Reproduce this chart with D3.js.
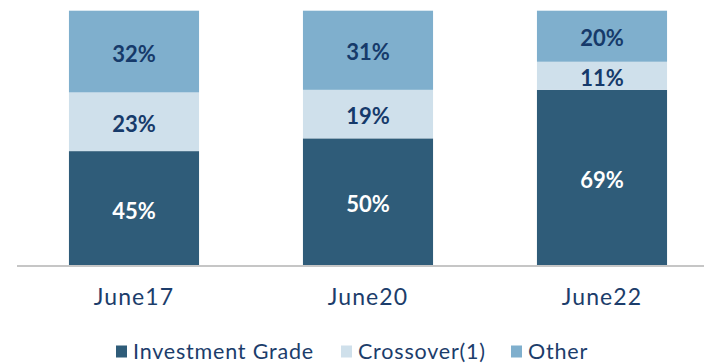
<!DOCTYPE html>
<html>
<head>
<meta charset="utf-8">
<script src="https://cdn.jsdelivr.net/npm/d3@7"></script>
<style>
  html, body { margin: 0; padding: 0; background: #fff; }
  svg { display: block; font-family: Lato, "Open Sans", sans-serif; }
</style>
</head>
<body>
<svg id="chart" width="704" height="363"></svg>
<script>
// Portfolio mix by period (percent of total)
const periods = ["June17", "June20", "June22"];
const investmentGrade = [45, 50, 69];
const crossover = [23, 19, 11];
const other = [32, 31, 20];

const seriesNames = ["Investment Grade", "Crossover(1)", "Other"];
const seriesColors = ["#2f5c79", "#cfe0eb", "#7fafcd"];
const labelColors = ["#ffffff", "#163a6a", "#163a6a"];

const rows = periods.map((p, i) => ({
  period: p,
  "Investment Grade": investmentGrade[i],
  "Crossover(1)": crossover[i],
  "Other": other[i]
}));

const svg = d3.select("#chart");
const baseY = 266, topY = 10.7;

const x = d3.scaleBand()
  .domain(periods)
  .range([17, 719])
  .paddingInner(0.444)
  .paddingOuter(0.222);

const y = d3.scaleLinear().domain([0, 100]).range([baseY, topY]);

const stack = d3.stack().keys(seriesNames);
const layers = stack(rows);

const g = svg.append("g");
layers.forEach((layer, li) => {
  const grp = g.append("g");
  grp.selectAll("rect")
    .data(layer)
    .join("rect")
    .attr("x", d => x(d.data.period))
    .attr("width", x.bandwidth())
    .attr("y", d => y(d[1]))
    .attr("height", d => y(d[0]) - y(d[1]))
    .attr("fill", seriesColors[li]);
  grp.selectAll("text")
    .data(layer)
    .join("text")
    .attr("x", d => x(d.data.period) + x.bandwidth() / 2)
    .attr("y", d => (y(d[0]) + y(d[1])) / 2 + 1.5)
    .attr("text-anchor", "middle")
    .attr("dominant-baseline", "central")
    .attr("font-size", 22)
    .attr("font-weight", 700)
    .attr("fill", labelColors[li])
    .text(d => (d[1] - d[0]) + "%");
});

// Baseline axis
const axis = d3.axisBottom(x).tickSize(0).tickPadding(0);
const axisG = svg.append("g")
  .attr("transform", `translate(0,${baseY})`)
  .call(axis);
axisG.select(".domain")
  .attr("d", "M17,0H704")
  .attr("stroke", "#c6c6c6")
  .attr("stroke-width", 2);
axisG.selectAll(".tick text")
  .attr("y", 39)
  .attr("dy", null)
  .attr("font-family", "Lato, sans-serif")
  .attr("font-size", 23)
  .attr("letter-spacing", 1.1)
  .attr("fill", "#1c3d6b");

// Legend
const legendX = [116, 341, 511];
const legend = svg.append("g");
seriesNames.forEach((name, i) => {
  legend.append("rect")
    .attr("x", legendX[i]).attr("y", 345.5)
    .attr("width", 11).attr("height", 12)
    .attr("fill", seriesColors[i]);
  legend.append("text")
    .attr("x", legendX[i] + 17).attr("y", 359)
    .attr("font-size", 21.5)
    .attr("letter-spacing", 0.8)
    .attr("fill", "#1c3d6b")
    .text(name);
});
</script>
</body>
</html>
